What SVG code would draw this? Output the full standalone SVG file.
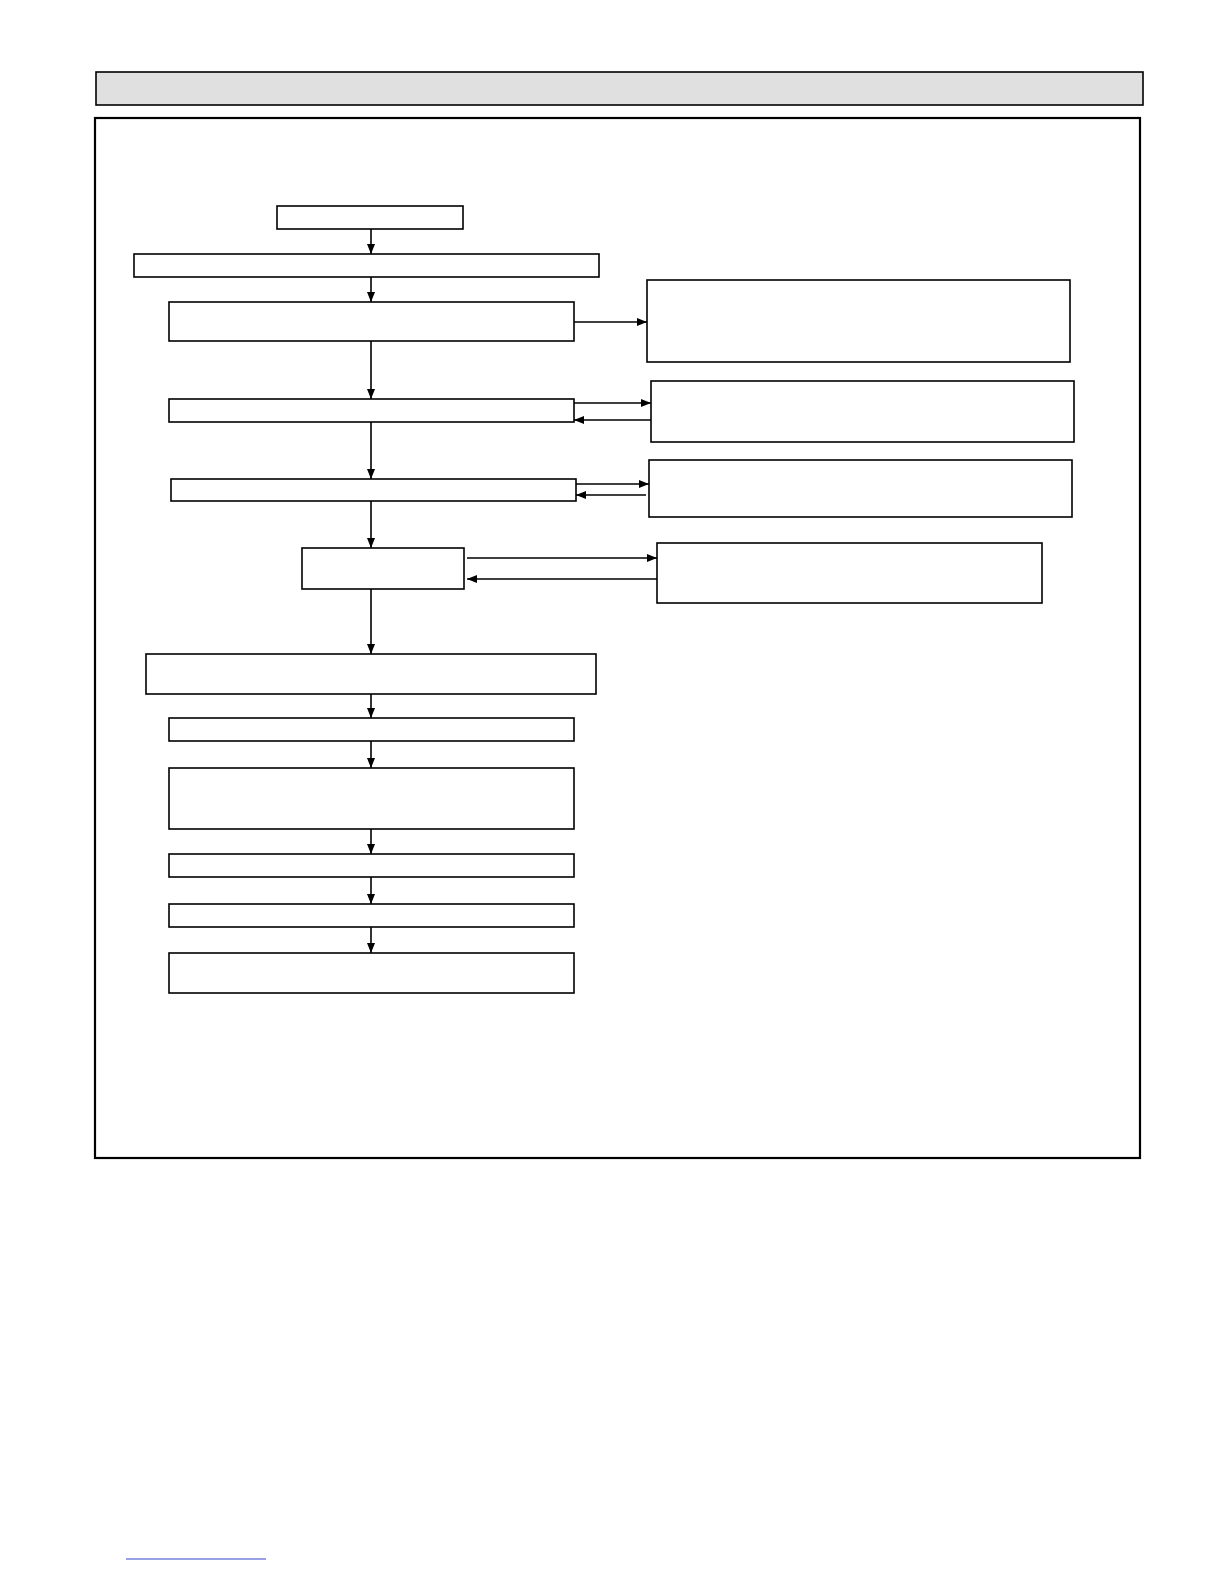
<svg xmlns="http://www.w3.org/2000/svg" width="1224" height="1584" viewBox="0 0 1224 1584">
<style>
.b{fill:#fff;stroke:#000;stroke-width:1.6}
.c{stroke:#000;stroke-width:1.6;fill:none;marker-end:url(#a)}
</style>
<defs><marker id="a" markerWidth="10" markerHeight="8" refX="10" refY="4" orient="auto" markerUnits="userSpaceOnUse"><path d="M0,0L10,4L0,8z" fill="#000"/></marker></defs>
<rect width="1224" height="1584" fill="#fff"/>
<rect x="96" y="72" width="1047" height="33" fill="#e0e0e0" stroke="#000" stroke-width="1.6"/>
<rect x="95" y="118" width="1045" height="1040" fill="none" stroke="#000" stroke-width="2.2"/>
<g id="n1"><rect class="b" x="277" y="206" width="186" height="23"/></g>
<g id="n2"><rect class="b" x="134" y="254" width="465" height="23"/></g>
<g id="n3"><rect class="b" x="169" y="302" width="405" height="39"/></g>
<g id="r1"><rect class="b" x="647" y="280" width="423" height="82"/></g>
<g id="n4"><rect class="b" x="169" y="399" width="405" height="23"/></g>
<g id="r2"><rect class="b" x="651" y="381" width="423" height="61"/></g>
<g id="n5"><rect class="b" x="171" y="479" width="405" height="22"/></g>
<g id="r3"><rect class="b" x="649" y="460" width="423" height="57"/></g>
<g id="n6"><rect class="b" x="302" y="548" width="162" height="41"/></g>
<g id="r4"><rect class="b" x="657" y="543" width="385" height="60"/></g>
<g id="n7"><rect class="b" x="146" y="654" width="450" height="40"/></g>
<g id="n8"><rect class="b" x="169" y="718" width="405" height="23"/></g>
<g id="n9"><rect class="b" x="169" y="768" width="405" height="61"/></g>
<g id="n10"><rect class="b" x="169" y="854" width="405" height="23"/></g>
<g id="n11"><rect class="b" x="169" y="904" width="405" height="23"/></g>
<g id="n12"><rect class="b" x="169" y="953" width="405" height="40"/></g>
<g id="connectors">
<path class="c" d="M371,229V254"/>
<path class="c" d="M371,277V302"/>
<path class="c" d="M371,341V399"/>
<path class="c" d="M371,422V479"/>
<path class="c" d="M371,501V548"/>
<path class="c" d="M371,589V654"/>
<path class="c" d="M371,694V718"/>
<path class="c" d="M371,741V768"/>
<path class="c" d="M371,829V854"/>
<path class="c" d="M371,877V904"/>
<path class="c" d="M371,927V953"/>
<path class="c" d="M574,322H647"/>
<path class="c" d="M574,403H651"/>
<path class="c" d="M651,420H574"/>
<path class="c" d="M576,484H649"/>
<path class="c" d="M646,495H576"/>
<path class="c" d="M467,558H657"/>
<path class="c" d="M657,579H467"/>
</g>
<line x1="126" y1="1559" x2="266" y2="1559" stroke="#3344cc" stroke-width="1.2"/>
</svg>
